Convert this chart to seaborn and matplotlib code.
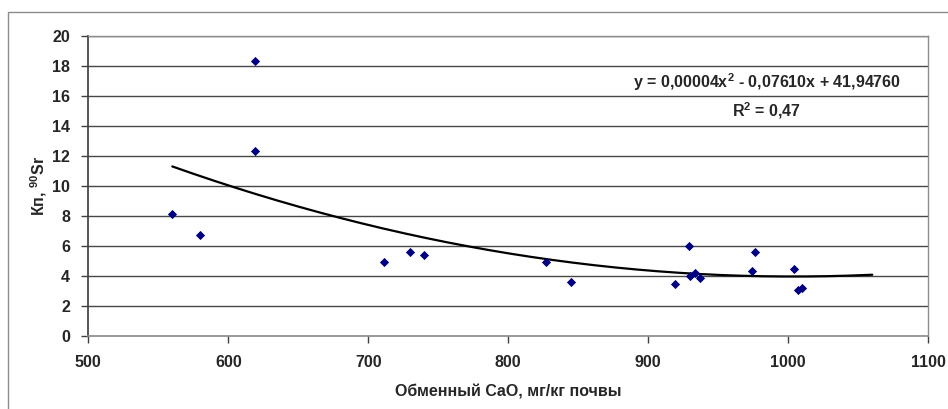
import numpy as np
import pandas as pd
import matplotlib
matplotlib.use("Agg")
import matplotlib.pyplot as plt
import seaborn as sns
from matplotlib.patches import Rectangle

# ---- data ----
cao = [560, 580, 619, 619, 711, 730, 740, 827, 845, 919, 929, 930, 933, 937, 974, 976, 1004, 1007, 1010]
kp_sr = [8.1, 6.7, 18.3, 12.3, 4.9, 5.55, 5.4, 4.9, 3.6, 3.45, 6.0, 4.0, 4.2, 3.85, 4.3, 5.55, 4.45, 3.05, 3.2]
x_ticks = [500, 600, 700, 800, 900, 1000, 1100]
y_ticks = [0, 2, 4, 6, 8, 10, 12, 14, 16, 18, 20]
eq_text = "y = 0,00004x$^2$ - 0,07610x + 41,94760"
r2_text = "R$^2$ = 0,47"
x_label = "Обменный CaO, мг/кг почвы"
y_label = "Кп, $^{90}$Sr"
forward = 50

df = pd.DataFrame({"cao": cao, "kp": kp_sr})

sns.set_theme(style="white")
plt.rcParams["font.family"] = ["Liberation Sans", "DejaVu Sans"]
plt.rcParams["mathtext.fontset"] = "custom"
plt.rcParams["mathtext.rm"] = "Liberation Sans:bold"
plt.rcParams["mathtext.bf"] = "Liberation Sans:bold"
plt.rcParams["mathtext.it"] = "Liberation Sans:bold"

FS = 11.5
W, H = 948, 409
fig = plt.figure(figsize=(W / 100, H / 100), dpi=100)
fig.patch.set_facecolor("white")
ax = fig.add_axes([88.3 / W, 1 - 335.7 / H, (928.3 - 88.3) / W, (335.7 - 35.7) / H])

# outer chart frame
fig.patches.append(Rectangle((8 / W, -0.05), 1.2, 1 - 12 / H + 0.05, transform=fig.transFigure,
                             fill=False, edgecolor="#8c8c8c", lw=1.0, zorder=0))

# gridlines
for yv in y_ticks[1:]:
    ax.axhline(yv, color="#474747", lw=1.0, zorder=1)

# trendline: 2nd order polynomial fitted to the data
coef = np.polyfit(df["cao"], df["kp"], 2)
xs = np.linspace(df["cao"].min(), df["cao"].max() + forward, 200)
trend = pd.DataFrame({"cao": xs, "kp": np.polyval(coef, xs)})
sns.lineplot(data=trend, x="cao", y="kp", ax=ax, color="black", lw=1.6, zorder=3)

sns.scatterplot(data=df, x="cao", y="kp", ax=ax, marker="D", s=22, color="#000080",
                edgecolor="#000080", linewidth=0, zorder=4)

ax.set_xlim(x_ticks[0], x_ticks[-1])
ax.set_ylim(y_ticks[0], y_ticks[-1])
ax.set_xticks(x_ticks)
ax.set_yticks(y_ticks)
ax.set_xticklabels([str(v) for v in x_ticks], fontsize=FS, fontweight="bold")
ax.set_yticklabels([str(v) for v in y_ticks], fontsize=FS, fontweight="bold")
ax.tick_params(axis="x", direction="out", length=5, width=1, color="#404040", pad=9, bottom=True)
ax.tick_params(axis="y", direction="out", length=5, width=1, color="#404040", pad=8, left=True)

for side in ["top", "right"]:
    ax.spines[side].set_color("#8c8c8c")
    ax.spines[side].set_linewidth(1.0)
ax.spines["left"].set_color("#404040")
ax.spines["bottom"].set_color("#8c8c8c")
for s in ax.spines.values():
    s.set_visible(True)

ax.set_xlabel(x_label, fontsize=FS, fontweight="bold", labelpad=10)
ax.set_ylabel(y_label, fontsize=FS, fontweight="bold", labelpad=2)

ax.text(984.6, 16.88, eq_text, ha="center", va="center", fontsize=FS, fontweight="bold", zorder=5)
ax.text(984.6, 15.0, r2_text, ha="center", va="center", fontsize=FS, fontweight="bold", zorder=5)

fig.savefig("out.png", dpi=100, facecolor="white")
